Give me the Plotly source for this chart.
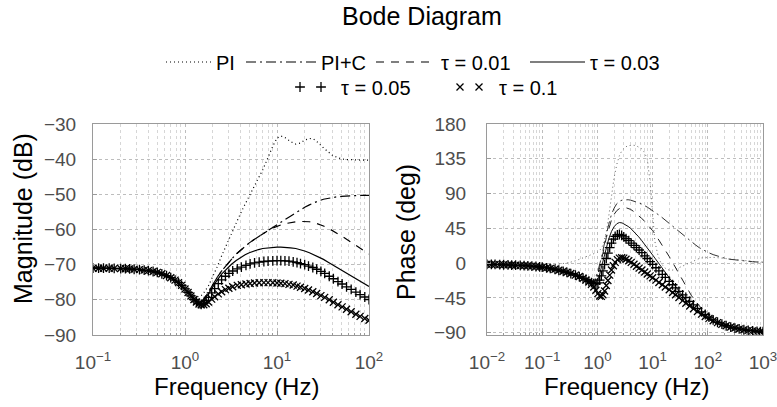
import plotly.graph_objects as go

# ---------------- DATA ----------------
# Magnitude (dB), line series
MAG_LINE_FREQ = [0.1, 0.15, 0.2, 0.3, 0.4, 0.5, 0.6, 0.7, 0.8, 0.9, 1.0, 1.1, 1.2, 1.3, 1.4, 1.5, 1.6, 1.8,
                 2.0, 2.25, 2.5, 2.8, 3.2, 3.6, 4.0, 4.5, 5.0, 5.6, 6.3, 7.0, 8.0, 9.0, 10, 11, 12.5, 14, 16,
                 18, 20, 22.5, 25, 28, 32, 36, 40, 45, 50, 56, 63, 70, 80, 90, 100]
MAG_PI = [-71.0, -71.0, -71.1, -71.3, -71.7, -72.2, -72.9, -73.7, -74.7, -75.8, -76.8, -77.8, -78.5, -79.0,
          -79.1, -78.8, -78.0, -76.0, -73.5, -70.5, -67.5, -64.5, -61.0, -58.0, -55.5, -52.8, -50.5, -48.0,
          -45.5, -43.0, -39.5, -36.3, -34.0, -33.4, -34.0, -35.0, -35.7, -35.4, -34.6, -34.1, -34.3, -35.3,
          -36.8, -38.0, -38.9, -39.5, -39.9, -40.1, -40.2, -40.3, -40.3, -40.3, -40.3]
MAG_PIC = [-71.0, -71.0, -71.1, -71.3, -71.7, -72.2, -72.9, -73.7, -74.7, -75.8, -76.9, -78.0, -79.1, -80.0,
           -81.0, -80.6, -79.8, -77.8, -75.6, -73.5, -71.8, -70.2, -68.5, -67.0, -65.9, -64.7, -63.8, -62.9,
           -62.0, -61.3, -60.2, -59.3, -58.6, -57.9, -57.0, -56.2, -55.2, -54.4, -53.7, -53.0, -52.4, -51.9,
           -51.4, -51.1, -50.9, -50.7, -50.6, -50.5, -50.4, -50.4, -50.3, -50.3, -50.3]
MAG_T001 = [-71.0, -71.0, -71.1, -71.3, -71.7, -72.2, -72.9, -73.7, -74.7, -75.8, -76.9, -78.0, -79.1, -80.0,
            -81.0, -80.6, -79.8, -77.8, -75.6, -73.5, -71.8, -70.2, -68.5, -67.0, -65.9, -64.7, -63.8, -62.9,
            -62.0, -61.3, -60.3, -59.6, -59.1, -58.7, -58.3, -58.0, -57.8, -57.7, -57.7, -57.8, -58.0, -58.4,
            -59.0, -59.6, -60.3, -61.0, -61.8, -62.6, -63.5, -64.3, -65.3, -66.2, -67.0]
MAG_T003 = [-71.0, -71.0, -71.1, -71.3, -71.7, -72.2, -72.9, -73.7, -74.7, -75.8, -76.9, -78.0, -79.1, -80.0,
            -81.1, -80.8, -80.1, -78.3, -76.3, -74.3, -72.7, -71.3, -69.9, -68.8, -68.0, -67.2, -66.6, -66.1,
            -65.7, -65.4, -65.2, -65.05, -65.0, -65.0, -65.05, -65.2, -65.4, -65.7, -66.1, -66.6, -67.1, -67.7,
            -68.5, -69.3, -70.0, -70.8, -71.5, -72.3, -73.1, -73.8, -74.7, -75.5, -76.2]

# Magnitude (dB), marker series
MAG_MK_FREQ = [0.1, 0.115, 0.13, 0.15, 0.17, 0.2, 0.225, 0.25, 0.28, 0.32, 0.36, 0.4, 0.45, 0.5, 0.56, 0.63,
               0.7, 0.78, 0.85, 0.92, 1.0, 1.08, 1.16, 1.25, 1.33, 1.42, 1.5, 1.6, 1.7, 1.8, 1.95, 2.1, 2.3,
               2.5, 2.75, 3.0, 3.3, 3.7, 4.1, 4.6, 5.1, 5.7, 6.4, 7.2, 8.0, 9.0, 10, 11, 12.2, 13.5, 15, 16.5,
               18, 20, 22, 24.5, 27, 30, 33, 37, 41, 46, 51, 57, 64, 72, 80, 90, 100]
MAG_T005 = [-71.0, -71.0, -71.0, -71.0, -71.05, -71.1, -71.15, -71.2, -71.3, -71.4, -71.55, -71.7, -71.95,
            -72.2, -72.6, -73.1, -73.7, -74.4, -75.1, -75.9, -76.9, -77.9, -78.9, -79.9, -80.6, -81.1, -81.3,
            -81.0, -80.2, -79.3, -78.0, -76.8, -75.4, -74.3, -73.3, -72.5, -71.8, -71.2, -70.7, -70.2, -69.8,
            -69.5, -69.3, -69.1, -69.0, -68.9, -68.85, -68.85, -68.9, -69.0, -69.2, -69.4, -69.7, -70.0, -70.4,
            -70.8, -71.3, -71.9, -72.5, -73.3, -74.0, -74.8, -75.5, -76.3, -77.0, -77.8, -78.5, -79.2, -79.9]
MAG_T01 = [-71.0, -71.0, -71.0, -71.0, -71.05, -71.1, -71.15, -71.2, -71.3, -71.4, -71.55, -71.7, -71.95,
           -72.2, -72.6, -73.1, -73.7, -74.4, -75.1, -75.9, -76.9, -77.9, -78.9, -79.9, -80.6, -81.2, -81.4,
           -81.4, -81.1, -80.6, -79.8, -79.1, -78.3, -77.7, -77.1, -76.7, -76.3, -75.9, -75.7, -75.5, -75.35,
           -75.2, -75.15, -75.1, -75.1, -75.15, -75.2, -75.3, -75.4, -75.6, -75.8, -76.1, -76.4, -76.8, -77.2,
           -77.7, -78.2, -78.8, -79.3, -80.0, -80.7, -81.4, -82.0, -82.7, -83.4, -84.1, -84.7, -85.3, -85.8]

# Phase (deg), line series
PH_LINE_FREQ = [0.01, 0.015, 0.02, 0.03, 0.05, 0.07, 0.1, 0.15, 0.2, 0.3, 0.4, 0.5, 0.6, 0.7, 0.8, 0.9, 1.0,
                1.1, 1.2, 1.3, 1.45, 1.6, 1.8, 2.0, 2.25, 2.5, 2.8, 3.2, 3.6, 4.0, 4.5, 5.0, 5.6, 6.3, 7.0, 8.0,
                9.0, 10, 11, 12.5, 14, 16, 18, 20, 23, 26, 30, 35, 40, 45, 50, 60, 70, 80, 100, 125, 150, 200,
                250, 300, 400, 500, 650, 800, 1000]
PH_PI = [-1.5, -1.8, -2.0, -2.3, -2.7, -2.9, -2.9, -2.5, -1.6, 0.5, 3.0, 5.5, 7.5, 9.0, 10.5, 12.0, 14.0,
         16.5, 20.0, 26.0, 40.0, 60.0, 88.0, 110.0, 128.0, 139.0, 146.0, 150.0, 152.0, 152.5, 152.5, 152.0,
         150.5, 148.0, 144.0, 135.0, 105.0, 60.0, 28.0, 10.0, 1.0, -5.0, -8.0, -9.0, -9.0, -8.0, -6.0, -3.5,
         -1.5, 0.5, 2.0, 4.5, 6.0, 7.0, 7.5, 7.5, 7.0, 6.0, 5.0, 4.3, 3.3, 2.7, 2.0, 1.6, 1.3]
PH_PIC = [-1.5, -1.8, -2.1, -2.5, -3.3, -4.1, -5.3, -7.3, -9.2, -12.5, -15.5, -18.3, -20.8, -22.5, -23.0,
          -20.0, -13.0, -3.0, 9.0, 21.0, 37.0, 50.0, 63.0, 71.0, 77.0, 80.0, 81.5, 82.0, 82.0, 81.5, 80.5,
          79.5, 78.0, 76.5, 75.0, 72.5, 70.0, 68.0, 66.0, 63.0, 60.5, 57.0, 54.0, 51.5, 48.0, 45.0, 41.0,
          37.0, 33.5, 30.5, 28.0, 23.5, 20.0, 17.5, 14.0, 11.0, 9.0, 6.5, 5.0, 4.2, 3.0, 2.4, 1.8, 1.4, 1.1]
PH_T001 = [-1.5, -1.8, -2.1, -2.5, -3.3, -4.1, -5.3, -7.3, -9.2, -12.5, -15.5, -18.3, -20.8, -23.0, -24.5,
           -22.0, -16.0, -6.0, 5.0, 17.0, 33.0, 45.0, 56.0, 63.0, 68.0, 70.5, 72.0, 72.0, 71.0, 69.5, 67.0,
           64.5, 61.5, 58.0, 55.0, 50.5, 46.0, 42.0, 38.0, 32.0, 26.5, 20.0, 14.0, 8.5, 1.0, -6.0, -14.0,
           -23.0, -30.5, -36.5, -41.5, -49.5, -55.5, -60.0, -66.5, -71.5, -75.0, -79.0, -81.5, -83.0, -85.0,
           -86.3, -87.3, -88.0, -88.5]
PH_T003 = [-1.5, -1.8, -2.1, -2.5, -3.3, -4.1, -5.3, -7.3, -9.2, -12.5, -15.5, -18.3, -20.8, -24.0, -26.5,
           -26.0, -22.0, -14.0, -4.0, 6.0, 20.0, 31.0, 41.0, 47.0, 51.0, 52.5, 52.0, 50.0, 47.5, 45.0, 41.5,
           38.0, 34.0, 29.5, 25.5, 20.0, 15.0, 10.5, 6.5, 1.0, -4.0, -10.0, -15.0, -19.5, -25.5, -30.5, -36.5,
           -42.5, -47.5, -51.5, -55.0, -60.5, -64.5, -67.5, -72.0, -75.5, -78.0, -81.0, -83.0, -84.2, -85.8,
           -86.8, -87.7, -88.2, -88.7]

# Phase (deg), marker series
PH_MK_FREQ = [0.01, 0.012, 0.014, 0.017, 0.02, 0.024, 0.028, 0.033, 0.04, 0.047, 0.055, 0.065, 0.077, 0.09,
              0.1, 0.12, 0.14, 0.17, 0.2, 0.24, 0.28, 0.33, 0.4, 0.47, 0.55, 0.62, 0.7, 0.78, 0.86, 0.94, 1.02,
              1.1, 1.18, 1.26, 1.35, 1.45, 1.55, 1.67, 1.8, 1.95, 2.1, 2.3, 2.5, 2.75, 3.0, 3.3, 3.7, 4.1, 4.6,
              5.1, 5.7, 6.4, 7.2, 8.0, 9.0, 10, 11.5, 13, 15, 17, 20, 23, 26, 30, 35, 40, 47, 55, 65, 77, 90,
              105, 125, 150, 180, 215, 260, 310, 370, 450, 540, 650, 780, 900, 1000]
PH_T005 = [-1.5, -1.6, -1.7, -1.9, -2.1, -2.3, -2.5, -2.7, -3.0, -3.2, -3.5, -3.9, -4.4, -4.9, -5.3, -6.1,
           -6.9, -8.0, -9.2, -10.6, -11.9, -13.5, -15.5, -17.4, -19.6, -21.5, -23.5, -25.2, -26.5, -26.8,
           -25.5, -22.0, -16.5, -10.0, -2.0, 6.0, 13.0, 20.0, 26.0, 31.0, 34.5, 36.5, 37.0, 36.0, 34.0, 31.5,
           29.0, 26.0, 23.0, 20.0, 17.0, 13.5, 9.5, 6.0, 2.0, -1.5, -6.0, -10.0, -14.5, -18.5, -23.5, -28.0,
           -32.0, -36.5, -41.0, -44.5, -49.5, -54.0, -58.5, -63.0, -66.5, -70.0, -73.5, -76.5, -79.0, -81.0,
           -82.7, -84.0, -85.2, -86.2, -87.0, -87.7, -88.2, -88.6, -88.8]
PH_T01 = [-1.5, -1.6, -1.7, -1.9, -2.1, -2.3, -2.5, -2.7, -3.0, -3.2, -3.5, -3.9, -4.4, -4.9, -5.3, -6.1,
          -6.9, -8.0, -9.2, -10.6, -11.9, -13.5, -15.5, -17.4, -19.6, -22.0, -24.5, -27.5, -31.0, -35.0,
          -39.5, -42.5, -43.0, -41.0, -36.0, -29.0, -22.5, -15.5, -9.0, -3.5, 1.0, 4.5, 6.5, 7.0, 6.5, 5.0,
          3.0, 1.0, -1.5, -4.0, -6.5, -9.0, -11.5, -14.0, -16.5, -19.0, -22.0, -25.0, -28.0, -31.0, -34.5,
          -38.0, -41.0, -44.5, -48.5, -52.0, -55.5, -59.0, -62.5, -66.0, -69.0, -71.5, -74.5, -77.0, -79.3,
          -81.0, -82.7, -84.0, -85.2, -86.2, -87.0, -87.7, -88.2, -88.6, -88.8]

MAG_TICKS = [-90, -80, -70, -60, -50, -40, -30]
PH_TICKS = [-90, -45, 0, 45, 90, 135, 180]
MAG_X_DECADES = [-1, 0, 1, 2]
PH_X_DECADES = [-2, -1, 0, 1, 2, 3]

# ---------------- STYLE ----------------
FONT = "Liberation Sans, Arial, sans-serif"
TICK_COLOR = "#4d4d4d"
MAJOR_GRID = "#bdbdbd"
MINOR_GRID = "#d6d6d6"
BOX = "#9a9a9a"
W, H = 777, 407
LEG_FONT = 20


def sup(d):
    s = str(d).replace("-", "\u2212")
    return "10<sup>" + s + "</sup>"


def minor_vals(decs):
    vals = []
    for d in decs[:-1]:
        for k in range(2, 10):
            vals.append(k * 10 ** d)
    return vals


def ylab(v):
    return str(v).replace("-", "\u2212")


def leg(text_left, itemwidth, ycen):
    # place a one-entry legend so that its text starts near text_left (px)
    left = text_left - itemwidth - 12
    return dict(orientation="h", x=left / W, xanchor="left", y=1 - ycen / H, yanchor="middle",
                font=dict(family=FONT, size=LEG_FONT, color="black"), itemwidth=itemwidth,
                bgcolor="rgba(0,0,0,0)", borderwidth=0)


fig = go.Figure()

line_specs = [
    ("PI", MAG_PI, PH_PI, "1px,3px", "legend", "#666666"),
    ("PI+C", MAG_PIC, PH_PIC, "10px,4px,2px,4px", "legend2", "#333333"),
    ("\u03c4 = 0.01", MAG_T001, PH_T001, "8px,7px", "legend3", "#222222"),
    ("\u03c4 = 0.03", MAG_T003, PH_T003, "solid", "legend4", "#111111"),
]
for name, mag, ph, dash, lg, phcol in line_specs:
    fig.add_trace(go.Scatter(x=MAG_LINE_FREQ, y=mag, mode="lines", name=name,
                             line=dict(color="black", width=1.2, dash=dash),
                             xaxis="x", yaxis="y", legend=lg))
    fig.add_trace(go.Scatter(x=PH_LINE_FREQ, y=ph, mode="lines", name=name, showlegend=False,
                             line=dict(color=phcol, width=1.0, dash=dash),
                             xaxis="x2", yaxis="y2"))

mk_specs = [
    ("\u03c4 = 0.05", MAG_T005, PH_T005, "cross-thin", "legend5", "legend6"),
    ("\u03c4 = 0.1", MAG_T01, PH_T01, "x-thin", "legend7", "legend8"),
]
for name, mag, ph, sym, lg_dup, lg in mk_specs:
    mk = dict(symbol=sym, size=7, color="black", line=dict(color="black", width=1.3))
    fig.add_trace(go.Scatter(x=MAG_MK_FREQ, y=mag, mode="markers", name=name, marker=mk,
                             xaxis="x", yaxis="y", legend=lg))
    fig.add_trace(go.Scatter(x=PH_MK_FREQ, y=ph, mode="markers", name=name, marker=mk,
                             showlegend=False, xaxis="x2", yaxis="y2"))
    # second legend glyph ("+ +" / "x x" as in the reference legend)
    fig.add_trace(go.Scatter(x=[None], y=[None], mode="markers", name="\u200a", marker=mk,
                             xaxis="x", yaxis="y", legend=lg_dup, hoverinfo="skip"))

L1, R1 = 93 / W, 369 / W
L2, R2 = 487 / W, 763 / W
B, T = 1 - 335 / H, 1 - 124 / H

common_x = dict(type="log", showline=True, linecolor=BOX, linewidth=1, mirror=True,
                ticks="inside", ticklen=4, tickcolor=BOX, automargin=False,
                showgrid=True, gridcolor=MAJOR_GRID, griddash="dot", gridwidth=1,
                zeroline=False, tickfont=dict(family=FONT, size=19, color=TICK_COLOR),
                ticklabelstandoff=10, ticklabeloverflow="allow")
common_y = dict(showline=True, linecolor=BOX, linewidth=1, mirror=True, automargin=False,
                ticks="inside", ticklen=4, tickcolor=BOX,
                showgrid=True, gridcolor=MAJOR_GRID, griddash="dot", gridwidth=1,
                zeroline=False, tickfont=dict(family=FONT, size=19, color=TICK_COLOR))

fig.update_layout(
    width=W, height=H, margin=dict(l=0, r=0, t=0, b=0, autoexpand=False),
    plot_bgcolor="white", paper_bgcolor="white",
    font=dict(family=FONT, color="black"),
    xaxis=dict(common_x, domain=[L1, R1], anchor="y", range=[-1, 2.000001],
               tickmode="array", tickvals=[10 ** d for d in MAG_X_DECADES],
               ticktext=[sup(d) for d in MAG_X_DECADES],
               minor=dict(tickmode="array", tickvals=minor_vals(MAG_X_DECADES), showgrid=True,
                          gridcolor=MINOR_GRID, griddash="dot", ticks="inside", ticklen=2, tickcolor=BOX)),
    yaxis=dict(common_y, domain=[B, T], anchor="x", range=[-90, -30],
               tickmode="array", tickvals=MAG_TICKS, ticktext=[ylab(v) for v in MAG_TICKS],
               ticklabelstandoff=12),
    xaxis2=dict(common_x, domain=[L2, R2], anchor="y2", range=[-2, 3.000001],
                tickmode="array", tickvals=[10 ** d for d in PH_X_DECADES],
                ticktext=[sup(d) for d in PH_X_DECADES],
                minor=dict(tickmode="array", tickvals=minor_vals(PH_X_DECADES), showgrid=True,
                           gridcolor=MINOR_GRID, griddash="dot", ticks="inside", ticklen=2, tickcolor=BOX)),
    yaxis2=dict(common_y, domain=[B, T], anchor="x2", range=[-93, 180],
                tickmode="array", tickvals=PH_TICKS, ticktext=[ylab(v) for v in PH_TICKS],
                ticklabelstandoff=16),
    legend=leg(218, 45, 62),
    legend2=leg(323, 70, 62),
    legend3=leg(443, 60, 62),
    legend4=leg(592, 55, 62),
    legend5=leg(322, 30, 87),
    legend6=leg(343, 30, 87),
    legend7=leg(482, 30, 87),
    legend8=leg(501, 30, 87),
    annotations=[
        dict(text="Bode Diagram", x=422 / W, y=1 - 16 / H, xref="paper", yref="paper",
             showarrow=False, font=dict(family=FONT, size=25, color="black"),
             xanchor="center", yanchor="middle"),
        dict(text="Magnitude (dB)", x=23 / W, y=1 - 219 / H, xref="paper", yref="paper",
             showarrow=False, textangle=-90, font=dict(family=FONT, size=25, color="black"),
             xanchor="center", yanchor="middle"),
        dict(text="Phase (deg)", x=406 / W, y=1 - 232 / H, xref="paper", yref="paper",
             showarrow=False, textangle=-90, font=dict(family=FONT, size=25, color="black"),
             xanchor="center", yanchor="middle"),
        dict(text="Frequency (Hz)", x=236 / W, y=1 - 386 / H, xref="paper", yref="paper",
             showarrow=False, font=dict(family=FONT, size=24, color="black"),
             xanchor="center", yanchor="middle"),
        dict(text="Frequency (Hz)", x=626 / W, y=1 - 386 / H, xref="paper", yref="paper",
             showarrow=False, font=dict(family=FONT, size=24, color="black"),
             xanchor="center", yanchor="middle"),
    ],
)

fig.write_html("out.html")
